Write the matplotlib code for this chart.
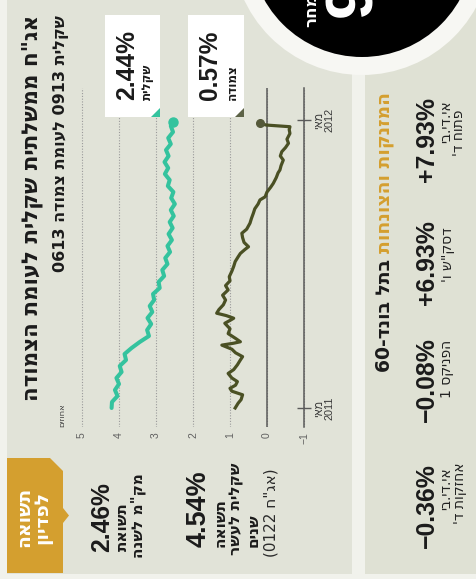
import re
import matplotlib
matplotlib.use('Agg')
import matplotlib.pyplot as plt
from matplotlib.patches import Rectangle, Polygon, Circle

plt.rcParams['font.family'] = ['Liberation Sans', 'DejaVu Sans']

# ---------------- DATA ----------------
# months since May 2011
green_t = [0, .25, .5, .75, 1.0, 1.25, 1.5, 1.75, 2.0, 2.25, 2.5, 2.75, 3.0, 3.25, 3.5,
           3.75, 4.0, 4.25, 4.5, 4.75, 5.0, 5.25, 5.5, 5.75, 6.0, 6.25, 6.5, 6.75, 7.0,
           7.25, 7.5, 7.75, 8.0, 8.25, 8.5, 8.75, 9.0, 9.25, 9.5, 9.75, 10.0, 10.25,
           10.5, 10.75, 11.0, 11.25, 11.5, 11.75, 11.9]
green_v = [4.20, 4.19, 4.04, 4.11, 4.00, 4.07, 3.93, 3.98, 3.81, 3.85, 3.66, 3.44, 3.19,
           3.24, 3.13, 3.23, 3.10, 3.17, 3.05, 3.08, 2.90, 2.93, 2.78, 2.83, 2.69, 2.75,
           2.62, 2.69, 2.57, 2.66, 2.55, 2.63, 2.52, 2.60, 2.49, 2.59, 2.53, 2.68, 2.63,
           2.76, 2.67, 2.77, 2.66, 2.73, 2.60, 2.67, 2.54, 2.60, 2.53]
olive_t = [0, 0.2, 0.35, 0.55, 0.7, 0.82, 0.95, 1.1, 1.25, 1.44, 1.6, 1.8, 2.0, 2.14,
           2.3, 2.45, 2.62, 2.7, 2.76, 2.9, 3.1, 3.3, 3.53, 3.65, 3.74, 3.85, 3.95, 4.1,
           4.3, 4.5, 4.7, 4.92, 5.1, 5.3, 5.47, 5.7, 5.9, 6.1, 6.3, 6.44, 6.6, 6.72, 6.9,
           7.1, 7.28, 7.45, 7.7, 7.9, 8.11, 8.3, 8.5, 8.67, 8.8, 9.0, 9.2, 9.36, 9.6, 9.8,
           9.92, 10.1, 10.33, 10.5, 10.68, 10.85, 11.03, 11.2, 11.44, 11.6, 11.72, 11.79,
           11.86]
olive_v = [0.86, 0.78, 0.70, 0.66, 0.95, 1.00, 0.85, 0.80, 0.95, 1.05, 0.90, 0.80, 0.72,
           0.66, 0.85, 0.95, 1.22, 0.90, 0.72, 0.85, 1.05, 1.00, 1.14, 1.00, 0.90, 1.10,
           1.36, 1.30, 1.18, 1.12, 1.20, 1.05, 1.12, 1.00, 1.02, 0.95, 0.90, 0.86, 0.78,
           0.72, 0.60, 0.50, 0.62, 0.66, 0.68, 0.55, 0.46, 0.42, 0.37, 0.33, 0.24, 0.19,
           0.05, 0.00, -0.10, -0.17, -0.25, -0.30, -0.35, -0.38, -0.44, -0.36, -0.40,
           -0.50, -0.58, -0.54, -0.62, -0.60, -0.62, 0.02, 0.20]

value_ticks = [5, 4, 3, 2, 1, 0, -1]
value_labels = ['5', '4', '3', '2', '1', '0', '\u22121']
date_ticks = [0, 12]
date_month = ['מאי', 'מאי']
date_year = ['2011', '2012']

title = 'אג"ח ממשלתית שקלית לעומת הצמודה'
subtitle = 'שקלית 0913 לעומת צמודה 0613'
unit_label = 'אחוזים'
end_values = ['2.44%', '0.57%']
end_names = ['שקלית', 'צמודה']

badge_lines = ['תשואה', 'לפדיון']
stat1_value = '2.46%'
stat1_lines = ['תשואת', 'מק"מ לשנה']
stat2_value = '4.54%'
stat2_lines = ['תשואה', 'שקלית לעשר', 'שנים']
stat2_note = '(אג"ח 0122)'

header_gold = 'המזנקות והצונחות'
header_black = 'בתל בונד-60'
movers_change = ['+7.93%', '+6.93%', '\u22120.08%', '\u22120.36%']
movers_name = [['אי.די.בי', "פתוח ד'"], ['דסק"ש ו\''], ['הפניקס 1'], ['אי.די.בי', "אחזקות ד'"]]

circle_big = '9'
circle_word = 'מחר'

# ---------------- helpers ----------------
def vis(s):
    """logical Hebrew -> visual (LTR) order, digits kept, brackets mirrored"""
    toks = re.findall(r'[0-9][0-9.,]*|.', s)
    return ''.join(reversed(toks)).translate(str.maketrans('()', ')('))

W, H = 477, 579
fig = plt.figure(figsize=(W / 100, H / 100), dpi=100)
fig.patch.set_facecolor('#f1f2ec')

GREEN = '#34c39e'
OLIVE = '#4a5024'
GOLD = '#d49f2f'
INK = '#1b1b1b'
HEB = ['DejaVu Sans']

# background layer (image pixel coords)
bg = fig.add_axes([0, 0, 1, 1], zorder=0)
bg.set_xlim(0, W); bg.set_ylim(H, 0); bg.axis('off')
bg.add_patch(Rectangle((7, 0), 345, 574, color='#e1e3d8', lw=0))
bg.add_patch(Rectangle((365, 0), 112, 574, color='#dfe1d4', lw=0))
bg.add_patch(Polygon([(7, 458), (50, 458), (63, 471), (63, 508), (69, 515.5), (63, 523),
                      (63, 573), (7, 573)], closed=True, color=GOLD, lw=0))

# chart axes
x0, x1, y0, y1 = 70, 320, 88, 427
ax = fig.add_axes([x0 / W, 1 - y1 / H, (x1 - x0) / W, (y1 - y0) / H], zorder=1)
ax.patch.set_visible(False)
ax.set_xlim((267 - x0) / 37, (267 - x1) / 37)
ax.set_ylim((408 - y1) / 24, (408 - y0) / 24)
for s in ['top', 'bottom', 'left']:
    ax.spines[s].set_visible(False)
ax.spines['right'].set_position(('data', -1))
ax.spines['right'].set_color('#5a5a5a')
ax.spines['right'].set_linewidth(1.1)
ax.yaxis.tick_right()
ax.set_yticks(date_ticks, [vis(m) + '\n' + y for m, y in zip(date_month, date_year)])
ax.tick_params(axis='y', direction='inout', length=9.5, width=1, color='#5a5a5a', pad=2.5,
               labelsize=7.8, labelcolor='#3a3a3a', labelrotation=90)
for lb in ax.get_yticklabels():
    lb.set_va('center'); lb.set_multialignment('center'); lb.set_linespacing(1.0)
ax.set_xticks(value_ticks, value_labels)
ax.tick_params(axis='x', length=0, pad=4, labelsize=7.5, labelcolor='#606060', labelrotation=90)
ax.grid(axis='x', ls=(0, (1, 1.5)), color='#9a9a9a', lw=0.8)
ax.set_axisbelow(True)
ax.axvline(0, color='#5a5a5a', lw=1.1, zorder=1.5)

ax.plot(green_v, green_t, color=GREEN, lw=2.9, solid_joinstyle='round',
        solid_capstyle='round', zorder=3)
ax.plot(green_v[-1:], green_t[-1:], 'o', ms=6.5, color=GREEN, zorder=4)
ax.plot(olive_v, olive_t, color=OLIVE, lw=2.3, solid_joinstyle='round', zorder=3)
ax.plot(olive_v[-1:], olive_t[-1:], 'o', ms=5.5, color='#55593a', zorder=4)

# foreground layer
fg = fig.add_axes([0, 0, 1, 1], zorder=3)
fg.set_xlim(0, W); fg.set_ylim(H, 0); fg.axis('off'); fg.patch.set_visible(False)

# end-value boxes
fg.add_patch(Rectangle((105, 15), 55, 102, color='white', lw=0))
fg.add_patch(Rectangle((188, 15), 56, 102, color='white', lw=0))
fg.add_patch(Polygon([(151, 117), (160, 117), (160, 108)], closed=True, color=GREEN, lw=0))
fg.add_patch(Polygon([(235, 117), (244, 117), (244, 108)], closed=True, color='#5d6347', lw=0))

# top-right circle
fg.add_patch(Circle((362, -55), 130, color='#f7f7f3', lw=0))
fg.add_patch(Circle((362, -55), 112, color='black', lw=0))

renderer = fig.canvas.get_renderer()

def rt(x, y, s, size=10, va='top', weight='bold', color=INK, heb=False):
    kw = dict(family=HEB) if heb else {}
    return fg.text(x, y, s, rotation=90, ha='center', va=va, fontsize=size,
                   fontweight=weight, color=color, **kw)

def fit(t, length, cap=100):
    bb = t.get_window_extent(renderer)
    t.set_fontsize(min(cap, t.get_fontsize() * length / bb.height))
    return t.get_fontsize()

# titles
fit(rt(32, 15, vis(title), heb=True), 398, cap=15.5)
fit(rt(61, 15, vis(subtitle), heb=True), 272, cap=11.5)
rt(62, 427, vis(unit_label), size=6, va='bottom', weight='normal', color='#444444', heb=True)

# end boxes text
for xv, xn, v, n in [(127, 147, end_values[0], end_names[0]),
                     (210, 232, end_values[1], end_names[1])]:
    fit(rt(xv, 100, v, va='bottom'), 70)
    fit(rt(xn, 100, vis(n), va='bottom', heb=True), 36, cap=9.5)

# badge (two lines in one text; first line on the left once rotated)
bsz = 13.5
badge = fg.text(33.5, 517, vis(badge_lines[0]) + '\n' + vis(badge_lines[1]), rotation=90,
                ha='center', va='center', fontsize=bsz, fontweight='bold', color='white',
                family=HEB, multialignment='center', linespacing=17 / (bsz * 100 / 72))

# stat 1
fit(rt(102, 552, stat1_value, va='bottom'), 70)
s1 = fit(rt(138, 558, vis(stat1_lines[1]), va='bottom', heb=True), 85, cap=11)
rt(122, 551, vis(stat1_lines[0]), size=s1, va='bottom', heb=True)

# stat 2
fit(rt(199, 547, stat2_value, va='bottom'), 77)
s2 = fit(rt(237, 555, vis(stat2_lines[1]), va='bottom', heb=True), 92, cap=11)
rt(220, 547, vis(stat2_lines[0]), size=s2, va='bottom', heb=True)
rt(253, 547, vis(stat2_lines[2]), size=s2, va='bottom', heb=True)
fit(rt(271, 557, vis(stat2_note), va='bottom', weight='normal', color='#2a2a2a', heb=True), 94,
    cap=11)

# right panel header
hg = rt(385, 92, vis(header_gold), color=GOLD, heb=True)
hs = fit(hg, 186, cap=13.5)
gb = hg.get_window_extent(renderer)
rt(385, 92 + gb.height + 6, vis(header_black), size=hs, heb=True)

# movers
tops = [97, 220, 337, 463]
name_x = [[446, 459], [448], [447], [446, 460]]
name_top = [[100, 110], [227], [340], [467, 463]]
cs = None
ns = None
for i, (c, names) in enumerate(zip(movers_change, movers_name)):
    t = rt(427, tops[i], c)
    if cs is None:
        cs = fit(t, 86)
    else:
        t.set_fontsize(cs)
    for j, nm in enumerate(names):
        tn = rt(name_x[i][j], name_top[i][j], vis(nm), weight='normal', color='#222222',
                heb=True)
        if ns is None:
            ns = fit(tn, 57, cap=10)
        else:
            tn.set_fontsize(ns)

# circle texts
rt(354, 17, circle_big, size=48, va='bottom', color='white')
rt(311, 27, vis(circle_word), size=12, va='bottom', color='white', heb=True)

fig.savefig('out.png', dpi=100, facecolor=fig.get_facecolor())
